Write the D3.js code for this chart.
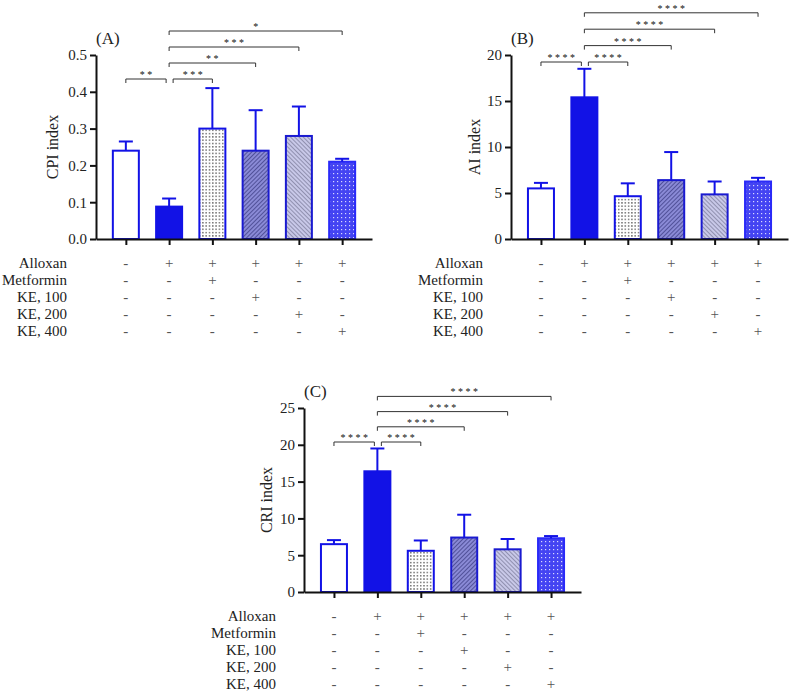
<!DOCTYPE html>
<html>
<head>
<meta charset="utf-8">
<script src="https://cdn.jsdelivr.net/npm/d3@7"></script>
<style>
  body { margin: 0; background: #fff; }
  text { font-family: "Liberation Serif", "Times New Roman", serif; }
</style>
</head>
<body>
<svg id="chart" width="790" height="694"></svg>
<script>
// groups in plotting order
const groups = ['Control', 'Alloxan', 'Metformin', 'KE100', 'KE200', 'KE400'];

// (A) CPI index: mean and SD
const cpiMean = [0.24, 0.088, 0.30, 0.24, 0.28, 0.21];
const cpiSd = [0.025, 0.022, 0.11, 0.11, 0.08, 0.008];
const cpiSig = [[0, 1, '**', 0], [1, 2, '***', 0], [1, 3, '**', 1], [1, 4, '***', 2], [1, 5, '*', 3]];

// (B) AI index
const aiMean = [5.5, 15.4, 4.65, 6.4, 4.85, 6.25];
const aiSd = [0.6, 3.1, 1.4, 3.05, 1.4, 0.4];
const aiSig = [[0, 1, '****', 0], [1, 2, '****', 0], [1, 3, '****', 1], [1, 4, '****', 2], [1, 5, '****', 3]];

// (C) CRI index
const criMean = [6.5, 16.4, 5.6, 7.4, 5.8, 7.3];
const criSd = [0.55, 3.1, 1.4, 3.1, 1.4, 0.3];
const criSig = [[0, 1, '****', 0], [1, 2, '****', 0], [1, 3, '****', 1], [1, 4, '****', 2], [1, 5, '****', 3]];

// treatment table under each chart
const rowLabels = ['Alloxan', 'Metformin', 'KE, 100', 'KE, 200', 'KE, 400'];
const treatment = [
  ['-', '+', '+', '+', '+', '+'],
  ['-', '-', '+', '-', '-', '-'],
  ['-', '-', '-', '+', '-', '-'],
  ['-', '-', '-', '-', '+', '-'],
  ['-', '-', '-', '-', '-', '+']
];

const FONT = '"Liberation Serif", "Times New Roman", serif';
const BLUE = '#1212e6';
const svg = d3.select('#chart').attr('font-family', FONT);
const defs = svg.append('defs');

// fill patterns
function dotPattern(id, bg, dot, size) {
  const p = defs.append('pattern').attr('id', id)
    .attr('patternUnits', 'userSpaceOnUse').attr('width', size).attr('height', size);
  p.append('rect').attr('width', size).attr('height', size).attr('fill', bg);
  p.append('rect').attr('x', 1).attr('y', 1).attr('width', 1.2).attr('height', 1.2).attr('fill', dot);
}
function hatchPattern(id, bg, line, angle) {
  const p = defs.append('pattern').attr('id', id)
    .attr('patternUnits', 'userSpaceOnUse').attr('width', 3).attr('height', 3)
    .attr('patternTransform', `rotate(${angle})`);
  p.append('rect').attr('width', 3).attr('height', 3).attr('fill', bg);
  p.append('line').attr('x1', 0).attr('y1', 0).attr('x2', 0).attr('y2', 3)
    .attr('stroke', line).attr('stroke-width', 1.2);
}
dotPattern('dotsBW', '#ffffff', '#222222', 3.3);
hatchPattern('hatchDark', '#8a8ad6', '#2a2a70', 45);
hatchPattern('hatchLight', '#c8c8e8', '#6a6a88', -45);
dotPattern('dotsBlue', '#4444f2', '#d8d8ff', 4);

const fills = ['#ffffff', BLUE, 'url(#dotsBW)', 'url(#hatchDark)', 'url(#hatchLight)', 'url(#dotsBlue)'];
const strokes = [BLUE, BLUE, BLUE, '#1a1ad0', '#1a1ad0', '#2a2af8'];

function drawPanel(cfg) {
  const g = svg.append('g');

  const x = d3.scalePoint().domain(groups).range([cfg.ox, cfg.xEnd]).padding(0.69);
  const y = d3.scaleLinear().domain([0, cfg.max]).range([cfg.yBot, cfg.yTop]);

  // bars
  const bw = 26;
  g.selectAll('rect.bar').data(cfg.mean).join('rect')
    .attr('class', 'bar')
    .attr('x', (d, i) => x(groups[i]) - bw / 2)
    .attr('y', d => y(d))
    .attr('width', bw)
    .attr('height', d => y(0) - y(d))
    .attr('fill', (d, i) => fills[i])
    .attr('stroke', (d, i) => strokes[i])
    .attr('stroke-width', 2);

  // error bars (upper only)
  const eb = g.selectAll('g.err').data(cfg.mean).join('g').attr('class', 'err');
  eb.append('line')
    .attr('x1', (d, i) => x(groups[i])).attr('x2', (d, i) => x(groups[i]))
    .attr('y1', d => y(d)).attr('y2', (d, i) => y(d + cfg.sd[i]))
    .attr('stroke', BLUE).attr('stroke-width', 2);
  eb.append('line')
    .attr('x1', (d, i) => x(groups[i]) - 7).attr('x2', (d, i) => x(groups[i]) + 7)
    .attr('y1', (d, i) => y(d + cfg.sd[i])).attr('y2', (d, i) => y(d + cfg.sd[i]))
    .attr('stroke', BLUE).attr('stroke-width', 2);

  // axes
  const yAxis = g.append('g').attr('transform', `translate(${cfg.ox},0)`)
    .call(d3.axisLeft(y).ticks(5).tickSize(6).tickSizeOuter(0).tickPadding(3)
      .tickFormat(cfg.fmt));
  const xAxis = g.append('g').attr('transform', `translate(0,${cfg.yBot})`)
    .call(d3.axisBottom(x).tickSize(6).tickSizeOuter(0).tickFormat(''));
  [yAxis, xAxis].forEach(a => {
    a.attr('font-family', FONT);
    a.select('.domain').attr('stroke', '#111').attr('stroke-width', 2);
    a.selectAll('.tick line').attr('stroke', '#111').attr('stroke-width', 2);
  });
  yAxis.selectAll('text').attr('font-size', 15).attr('fill', '#222');

  // y label
  g.append('text')
    .attr('transform', `translate(${cfg.ylabX},${(cfg.yTop + cfg.yBot) / 2}) rotate(-90)`)
    .attr('text-anchor', 'middle').attr('font-size', 16).attr('fill', '#222')
    .text(cfg.ylab);

  // panel label
  g.append('text').attr('x', cfg.ox).attr('y', cfg.yTop - 11)
    .attr('font-size', 17).attr('fill', '#222').text(cfg.label);

  // significance brackets
  cfg.sig.forEach(([a, b, stars, level]) => {
    let xa = x(groups[a]), xb = x(groups[b]);
    if (level === 0) {
      if (a === 0) xb -= 3; else xa += 4;
    }
    const yy = cfg.bracketBase - level * cfg.bracketStep;
    g.append('path')
      .attr('d', `M${xa},${yy + 4}V${yy}H${xb}V${yy + 4}`)
      .attr('fill', 'none').attr('stroke', '#333').attr('stroke-width', 1);
    g.append('text').attr('x', (xa + xb) / 2).attr('y', yy - 1)
      .attr('text-anchor', 'middle').attr('font-size', 10).attr('fill', '#111')
      .text(stars.split('').join(' '));
  });

  // treatment table
  rowLabels.forEach((lab, r) => {
    const ty = cfg.tableY0 + r * 17;
    g.append('text').attr('x', cfg.tableLabelX).attr('y', ty)
      .attr('text-anchor', 'end').attr('font-size', 15).attr('fill', '#222').text(lab);
    treatment[r].forEach((s, i) => {
      g.append('text').attr('x', x(groups[i])).attr('y', ty)
        .attr('text-anchor', 'middle').attr('font-size', 15).attr('fill', '#555').text(s);
    });
  });
}

drawPanel({ mean: cpiMean, sd: cpiSd, sig: cpiSig, max: 0.5, fmt: d3.format('.1f'),
  ox: 96, xEnd: 372, yTop: 55, yBot: 239, ylab: 'CPI index', ylabX: 58, label: '(A)',
  bracketBase: 79, bracketStep: 16, tableLabelX: 67, tableY0: 268 });

drawPanel({ mean: aiMean, sd: aiSd, sig: aiSig, max: 20, fmt: d3.format('d'),
  ox: 511, xEnd: 788, yTop: 55, yBot: 239, ylab: 'AI index', ylabX: 480, label: '(B)',
  bracketBase: 62, bracketStep: 16.4, tableLabelX: 483, tableY0: 268 });

drawPanel({ mean: criMean, sd: criSd, sig: criSig, max: 25, fmt: d3.format('d'),
  ox: 304, xEnd: 581, yTop: 408, yBot: 592, ylab: 'CRI index', ylabX: 272, label: '(C)',
  bracketBase: 442, bracketStep: 15.2, tableLabelX: 276, tableY0: 621 });
</script>
</body>
</html>
